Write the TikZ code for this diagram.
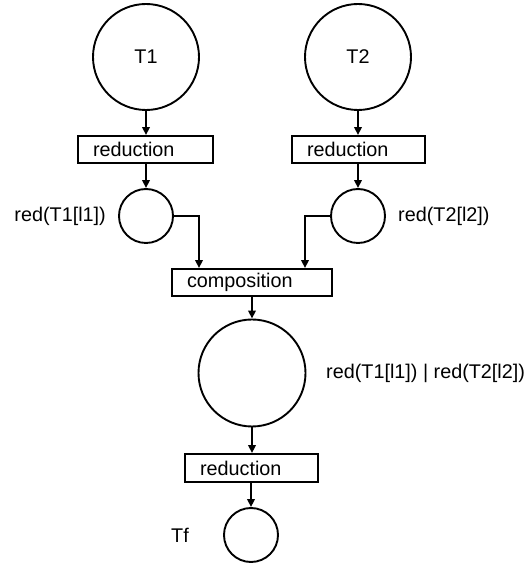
\documentclass[tikz,border=0pt]{standalone}
\usepackage{fontspec}
\setmainfont{Liberation Sans}
\usetikzlibrary{arrows.meta}
\begin{document}
\begin{tikzpicture}[x=1pt,y=1pt,
  font=\fontsize{19.8}{23}\selectfont,
  place/.style={draw, circle, inner sep=0pt, line width=1.9pt},
  bigplace/.style={place, minimum size=106pt},
  smallplace/.style={place, minimum size=54pt},
  transbox/.style={draw, rectangle, line width=1.9pt, minimum height=27pt,
    inner xsep=15pt, inner ysep=0pt, align=left},
  lbl/.style={inner sep=0pt},
  arr/.style={-{Triangle[length=8pt,width=7.5pt]}, line width=1.9pt}
]
\useasboundingbox (0,0) rectangle (529,565);

% input terms
\node[bigplace] (T1) at (146,508) {T1};
\node[bigplace] (T2) at (358,508) {T2};

% reduction transitions
\node[transbox, text width=105pt] (R1) at (145.5,415.5) {reduction};
\node[transbox, text width=103pt] (R2) at (358.5,415.5) {reduction};

% reduced terms
\node[smallplace] (C1) at (146,349) {};
\node[smallplace] (C2) at (358,349) {};
\node[lbl, anchor=east] (L1) at (106,349) {red(T1[l1])};
\node[lbl, anchor=west] (L2) at (398,349) {red(T2[l2])};

% composition
\node[transbox, text width=130pt] (CO) at (252,282.5) {composition};
\node[bigplace, minimum size=107pt] (P) at (252,192) {};
\node[lbl, anchor=west] (LP) at (326,192) {red(T1[l1]) | red(T2[l2])};

% final reduction
\node[transbox, text width=103pt, minimum height=28pt] (R3) at (251.5,97) {reduction};
\node[smallplace] (Tf) at (251,30) {};
\node[lbl, anchor=east] (LTf) at (189,30) {Tf};

% connectors
\draw[arr] (T1) -- (T1 |- R1.north);
\draw[arr] (T2) -- (T2 |- R2.north);
\draw[arr] (R1.south -| C1) -- (C1);
\draw[arr] (R2.south -| C2) -- (C2);
\draw[arr] (C1.east) -| (199,0 |- CO.north);
\draw[arr] (C2.west) -| (305,0 |- CO.north);
\draw[arr] (CO.south -| P) -- (P);
\draw[arr] (P) -- (P |- R3.north);
\draw[arr] (R3.south -| Tf) -- (Tf);
\end{tikzpicture}
\end{document}
